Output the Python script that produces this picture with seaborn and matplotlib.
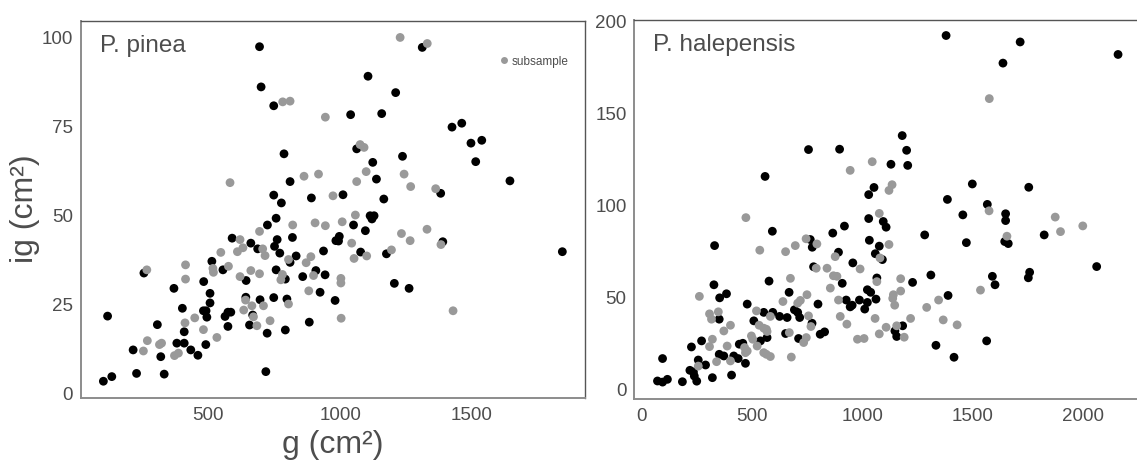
import numpy as np
import pandas as pd
import matplotlib
matplotlib.use("Agg")
import matplotlib.pyplot as plt
from matplotlib.lines import Line2D
import seaborn as sns

sns.set_style("white")
plt.rcParams['font.family'] = ['Liberation Sans', 'DejaVu Sans']

# ---------------- data: P. pinea ----------------
pinea_full_g = [694, 700, 748, 787, 810, 748, 777, 891,
                1312, 1106, 1211, 1040, 1158, 1425, 1462, 1063, 1497, 1538, 1237, 1124, 1515, 1138, 1382, 1645, 1011, 1166,
                757, 724, 590, 761, 819, 661, 751, 687, 771, 833, 513, 810, 255, 555, 757, 908, 858, 792, 643, 482, 369,
                506, 924, 642, 696, 748, 798, 506, 401, 481, 491, 585, 574, 563, 494, 117, 668, 883, 306, 656, 574, 408,
                792, 723, 380, 408, 490, 214, 433, 319, 460, 227, 332, 718, 133, 101,
                1114, 1129, 1121, 1051, 1096, 1390, 984, 997, 994, 937, 1078, 1176, 1844, 943, 1206, 1262, 981]
pinea_full_ig = [97.1, 85.8, 80.5, 67, 59.2, 55.4, 53.2, 54.6,
                 96.9, 88.8, 84.2, 78, 78.3, 74.5, 75.6, 68.4, 70, 70.8, 66.3, 64.6, 64.8, 59.9, 55.9, 59.4, 55.5, 54.3,
                 48.9, 47, 43.3, 42.9, 43.5, 41.9, 41, 40.3, 39.1, 38.3, 36.8, 36.5, 33.5, 34.4, 34.4, 34.2, 32.5, 31.8, 31.4, 31.1, 29.2,
                 27.8, 28.1, 26.7, 26, 26.6, 26.2, 25.1, 23.6, 22.9, 22.9, 22.5, 22.5, 21.3, 21.1, 21.4, 21.7, 19.7, 19, 18.9, 18.5, 17,
                 17.5, 16.6, 13.8, 13.8, 13.4, 11.9, 11.9, 10, 10.4, 5.3, 5.1, 5.8, 4.4, 3.1,
                 49.6, 49.6, 48.7, 47, 45.4, 42.3, 42.6, 43.8, 42.5, 39.7, 39.4, 38.9, 39.5, 33, 30.6, 29.2, 25.8]
pinea_sub_g = [782, 810, 582, 863, 918,
               1228, 1331, 944, 1076, 1091, 1099, 1063, 1243, 1268, 1363, 973,
               820, 905, 694, 620, 631, 706, 547, 610, 715, 889, 804, 871, 413, 517, 519, 576, 266, 661, 620, 694, 781,
               899, 775, 413, 881, 641, 804, 665, 709, 634, 448, 671, 734, 411, 684, 481, 532, 268, 314, 322, 253, 386, 371,
               1058, 944, 1008, 1233, 1330, 1266, 1383, 1044, 1053, 1101, 1195, 1003, 1003, 1429, 1004]
pinea_sub_ig = [81.6, 81.8, 58.9, 60.7, 61.3,
                99.7, 98, 77.3, 69.6, 68.8, 62, 59.2, 61.3, 57.8, 57.2, 55.2,
                47, 47.6, 45.2, 42.9, 40.6, 40.3, 39.3, 39.5, 38.4, 38.1, 37.3, 36.4, 35.8, 34.8, 33.7, 35.4, 34.4, 34.2, 32.5, 33.3, 33.1,
                32.8, 31.6, 31.8, 28.5, 25.9, 24.8, 24.3, 24.3, 23.1, 20.9, 21.2, 20.1, 19.5, 18.7, 17.6, 15.4, 14.5, 13.4, 13.8, 11.6, 11, 10.3,
                49.8, 46.8, 47.9, 44.6, 45.8, 42.6, 41.5, 41.9, 37.6, 38.3, 40, 32, 30.7, 22.9, 20.8]

# ---------------- data: P. halepensis ----------------
hal_full_g = [756, 897, 559, 1029, 1029, 1380, 1716, 1638, 2160, 1181, 1201, 1206, 1130, 1053, 1499, 1755, 1386, 1567,
              1456, 1650, 1650, 1095, 1108,
              1825, 1283, 1646, 1662, 1472, 1032, 1077, 1059, 1091, 957, 2063, 1311, 1228, 1066, 1590, 1602, 1759, 1753,
              1023, 1038, 1389, 1062, 987, 1023, 954, 1011, 1183, 1148, 1156, 1334, 1564, 1416,
              592, 919, 866, 764, 773, 330, 892, 779, 577, 909, 327, 668, 384, 353, 927, 945, 799, 478, 553, 594, 625,
              659, 692, 707, 716, 772, 351, 508, 568, 538, 458, 442, 470, 652, 711, 809, 829, 271, 351, 372, 417, 437,
              225, 256, 289, 218, 234, 238, 249, 320, 407, 94, 184, 71, 94, 116]
hal_full_ig = [130, 130.2, 115.4, 105.5, 92.5, 192, 188.5, 177, 181.7, 137.6, 129.6, 121.4, 122, 109.4, 111.3, 109.5, 102.9, 100.2,
               94.5, 95.1, 91.4, 90.9, 87.8,
               83.6, 83.6, 80, 78.9, 79.4, 80.7, 77.5, 73.4, 70.2, 68.4, 66.4, 61.8, 57.8, 60.2, 61.1, 56.5, 63.3, 60.3,
               53.8, 52.4, 50.7, 48.7, 48.2, 46.9, 45.4, 43.3, 34.2, 31.4, 28.4, 23.6, 26, 17.1,
               85.6, 88.4, 84.6, 81.1, 76.9, 77.8, 74.2, 66.3, 58.5, 57.3, 56.5, 52.4, 51.6, 49.4, 48.2, 44.5, 46, 46, 41.5, 41.5, 39.3,
               38.7, 42.9, 41.5, 38.7, 35.6, 37.8, 36.9, 27.8, 26, 24.7, 24.2, 13.8, 30, 27.3, 29.6, 30.9, 26, 18.7, 17.8, 17.8, 16.4,
               22.7, 15.6, 12.9, 10, 9.1, 6.9, 4.1, 6, 7.4, 16.4, 3.8, 4.2, 3.6, 5.1]
hal_sub_g = [945, 1045, 1576, 1135, 1121, 1575, 1077, 1875, 2000, 1899, 472,
             1656, 1121, 1080, 990, 1174, 1066, 1536, 1174, 1141, 1138, 1147, 1346, 1292, 1058, 1219, 1367, 1430, 1108, 1156,
             1077, 1190, 978, 1008,
             745, 794, 696, 652, 535, 877, 791, 840, 869, 885, 674, 855, 749, 261, 892, 640, 719, 707, 520, 583, 756, 900,
             930, 767, 347, 372, 402, 307, 316, 532, 553, 565, 568, 497, 503, 523, 466, 478, 470, 553, 565, 583, 669, 734,
             746, 678, 320, 307, 387, 339, 402, 256]
hal_sub_ig = [118.7, 123.4, 157.7, 110.9, 107.8, 96.7, 95.3, 93.3, 88.5, 85.4, 93,
              82.9, 78.4, 71.1, 65.1, 59.8, 58.2, 53.6, 53.1, 51.1, 49.1, 45.4, 48.2, 44.2, 38.2, 38.2, 37.4, 34.7, 33.4, 34.2,
              29.8, 28, 26.9, 27.3,
              81.5, 78.7, 77.8, 74.5, 75.3, 71.8, 65.5, 65.5, 61.4, 61.1, 60, 54.7, 51.1, 50.2, 48.2, 47.4, 48, 46.5, 42.3, 39.3, 39.6, 39.3,
              35.1, 33.8, 41.8, 31.4, 34.5, 40.7, 37.8, 34.5, 32.9, 32.3, 31.1, 28.7, 26.9, 23.2, 22.4, 20.5, 19.6, 19.6, 18.7, 17.5, 30.5, 25.1,
              27.8, 17.2, 26.9, 22.9, 23.2, 14.7, 15.1, 12.3]

panel_titles = ["P. pinea", "P. halepensis"]
x_label = "g (cm²)"
y_label = "ig (cm²)"
legend_label = "subsample"

BLACK = "#000000"
GREY = "#999999"
TXT = "#4D4D4D"


def make_df(fg, fi, sg, si):
    return pd.DataFrame({
        "g": list(fg) + list(sg),
        "ig": list(fi) + list(si),
        "grp": ["full"] * len(fg) + ["sub"] * len(sg),
    })


fig = plt.figure(figsize=(11.37, 4.64), dpi=100)
ax1 = fig.add_axes([0.071, 0.1394, 0.4435, 0.8138])
ax2 = fig.add_axes([0.5579, 0.1379, 0.4456, 0.8175])

dfs = [make_df(pinea_full_g, pinea_full_ig, pinea_sub_g, pinea_sub_ig),
       make_df(hal_full_g, hal_full_ig, hal_sub_g, hal_sub_ig)]

for ax, df in zip([ax1, ax2], dfs):
    sns.scatterplot(data=df, x="g", y="ig", hue="grp", palette={"full": BLACK, "sub": GREY},
                    s=40, linewidth=0, legend=False, ax=ax)
    ax.set_xlabel("")
    ax.set_ylabel("")
    for side in ["left", "bottom"]:
        ax.spines[side].set_color("#8C8C8C")
        ax.spines[side].set_linewidth(1.4)
    for side in ["top", "right"]:
        ax.spines[side].set_color("#555555")
        ax.spines[side].set_linewidth(1.0)
    ax.tick_params(axis="both", colors="#8C8C8C", labelcolor=TXT, labelsize=13.5,
                   length=3.5, width=1.0, direction="out", pad=2)

ax1.set_xlim(15, 1930)
ax1.set_ylim(-1.7, 104.4)
ax1.set_xticks([500, 1000, 1500])
ax1.set_yticks([0, 25, 50, 75, 100])

ax2.set_xlim(-34, 2264)
ax2.set_ylim(-5.6, 200.6)
ax2.set_xticks([0, 500, 1000, 1500, 2000])
ax2.set_yticks([0, 50, 100, 150, 200])

ax1.text(0.038, 0.935, panel_titles[0], transform=ax1.transAxes, fontsize=17.5, color=TXT, va="center", ha="left")
ax2.text(0.036, 0.935, panel_titles[1], transform=ax2.transAxes, fontsize=17.5, color=TXT, va="center", ha="left")

handle = Line2D([], [], marker="o", linestyle="none", color=GREY, markersize=5, markeredgewidth=0)
ax1.legend(handles=[handle], labels=[legend_label], loc="center left", bbox_to_anchor=(0.818, 0.894),
           frameon=False, fontsize=8.5, handletextpad=0.15, labelcolor=TXT, handlelength=1.0, borderaxespad=0)

fig.text(0.293, 0.04, x_label, fontsize=23, color=TXT, ha="center", va="center")
fig.text(0.022, 0.55, y_label, fontsize=23, color=TXT, ha="center", va="center", rotation=90)

fig.savefig("out.png", dpi=100)
